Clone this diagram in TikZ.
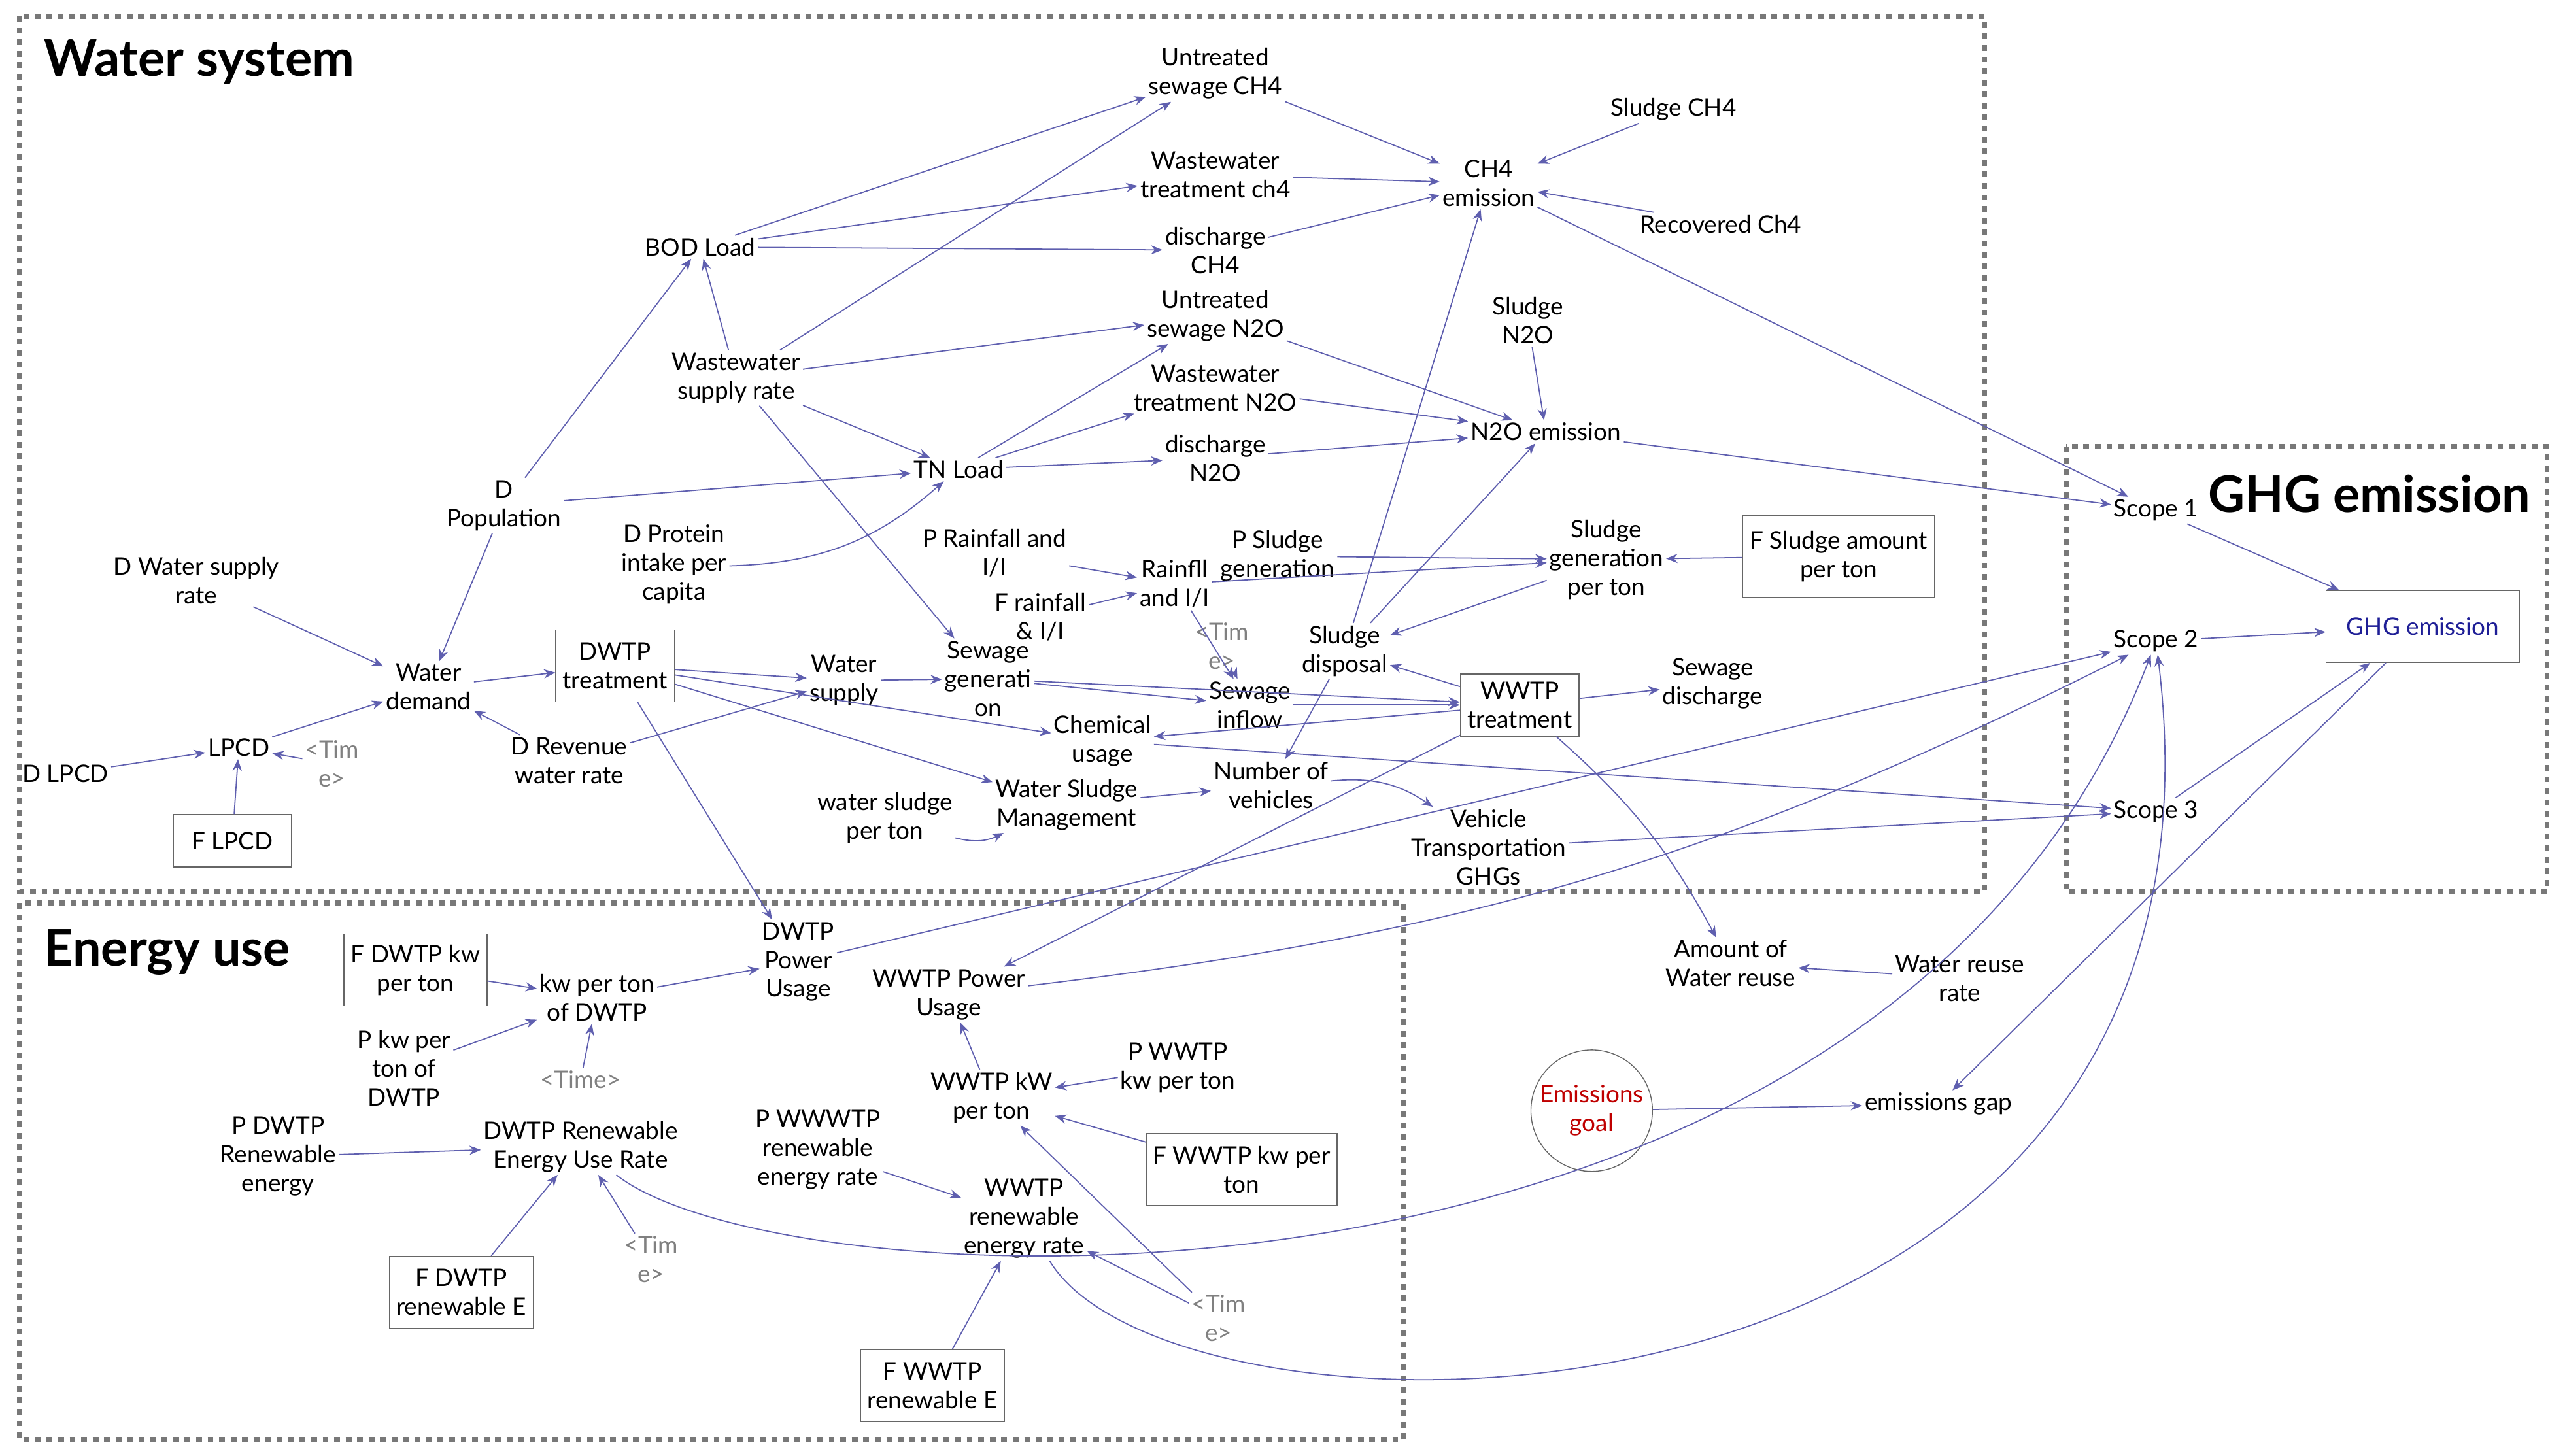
\documentclass[tikz,border=0pt]{standalone}
\usepackage{fontspec}
\setmainfont{Lato}
\usetikzlibrary{arrows.meta}
\definecolor{ln}{RGB}{95,95,175}
\definecolor{tip}{RGB}{30,30,150}
\definecolor{dotc}{RGB}{120,120,120}
\begin{document}
\begin{tikzpicture}[x=0.025cm,y=-0.025cm,
 v/.style={align=center,font=\fontsize{10.5}{12.5}\selectfont,inner sep=1pt},
 b/.style={v,draw=black!60,inner sep=3pt,minimum height=1.1cm},
 tm/.style={v,text=gray},
 ttl/.style={font=\fontsize{22}{24}\selectfont\bfseries,anchor=west},
 zone/.style={draw=dotc,dash pattern=on 2.5pt off 2.5pt,line width=2.2pt},
 a/.style={-{Stealth[length=5pt,width=4pt]},draw=ln,line width=0.5pt}]
\useasboundingbox (0,0) rectangle (1568,890);
\draw[zone] (12,10) rectangle (1213,545);
\draw[zone] (12,552) rectangle (858,880);
\draw[zone] (1263,273) rectangle (1557,545);
\node[ttl] (t1) at (22,38) {Water system};
\node[ttl] (t2) at (22,582) {Energy use};
\node[ttl] (t3) at (1345,302) {GHG emission};
% nodes
\node[v] (usch4) at (743,45) {Untreated\\sewage CH4};
\node[v] (wwtch4) at (743,107) {Wastewater\\treatment ch4};
\node[v] (dch4) at (743,153) {discharge\\CH4};
\node[v] (ch4) at (910,112) {CH4\\emission};
\node[v] (sludgech4) at (1023,67) {Sludge CH4};
\node[v] (recch4) at (1052,137) {Recovered Ch4};
\node[v] (bod) at (428,151) {BOD Load};
\node[v] (wsr) at (450,231) {Wastewater\\supply rate};
\node[v] (usn2o) at (743,193) {Untreated\\sewage N2O};
\node[v] (wtn2o) at (743,237) {Wastewater\\treatment N2O};
\node[v] (dn2o) at (743,280) {discharge\\N2O};
\node[v] (sn2o) at (934,196) {Sludge\\N2O};
\node[v] (n2o) at (945,264) {N2O emission};
\node[v] (tn) at (586,287) {TN Load};
\node[v] (dpop) at (308,309) {D\\Population};
\node[v] (dwsr) at (120,355) {D Water supply\\rate};
\node[v] (dprot) at (412,345) {D Protein\\intake per\\capita};
\node[v] (prain) at (608,338) {P Rainfall and\\I/I};
\node[v] (frain) at (636,377) {F rainfall\\\& I/I};
\node[v] (rain) at (718,357) {Rainfll\\and I/I};
\node[v] (psg) at (781,340) {P Sludge\\generation};
\node[v] (sgpt) at (982,342) {Sludge\\generation\\per ton};
\node[b,minimum height=1.25cm] (fsa) at (1124,340) {F Sludge amount\\per ton};
\node[tm] (time1) at (747,395) {<Tim\\e>};
\node[v] (sd) at (822,398) {Sludge\\disposal};
\node[v] (wd) at (262,420) {Water\\demand};
\node[b] (dwtp) at (376,407) {DWTP\\treatment};
\node[v] (ws) at (516,416) {Water\\supply};
\node[v] (sg) at (604,415) {Sewage\\generati\\on};
\node[v] (si) at (764,431) {Sewage\\inflow};
\node[b,minimum height=0.95cm] (wwtp) at (929,431) {WWTP\\treatment};
\node[v] (sdis) at (1047,418) {Sewage\\discharge};
\node[v] (lpcd) at (146,457) {LPCD};
\node[tm] (time2) at (203,467) {<Tim\\e>};
\node[v] (dlpcd) at (40,473) {D LPCD};
\node[v] (drev) at (348,465) {D Revenue\\water rate};
\node[v] (chem) at (674,453) {Chemical\\usage};
\node[v] (nv) at (777,480) {Number of\\vehicles};
\node[v] (wsm) at (652,492) {Water Sludge\\Management};
\node[v] (wspt) at (541,500) {water sludge\\per ton};
\node[v] (vt) at (910,518) {Vehicle\\Transportation\\GHGs};
\node[b,minimum height=0.8cm,minimum width=1.8cm] (flpcd) at (142,514) {F LPCD};
\node[v] (scope1) at (1318,312) {Scope 1};
\node[v] (scope2) at (1318,392) {Scope 2};
\node[v] (scope3) at (1318,496) {Scope 3};
\node[b,text=tip,minimum width=2.95cm] (ghg) at (1481,383) {GHG emission};
\node[b] (fdkw) at (254,593) {F DWTP kw\\per ton};
\node[v] (kwd) at (365,610) {kw per ton\\of DWTP};
\node[v] (dpu) at (488,588) {DWTP\\Power\\Usage};
\node[v] (wpu) at (580,608) {WWTP Power\\Usage};
\node[v] (awr) at (1058,589) {Amount of\\Water reuse};
\node[v] (wrr) at (1198,598) {Water reuse\\rate};
\node[v] (pkw) at (247,653) {P kw per\\ton of\\DWTP};
\node[tm] (time3) at (355,660) {<Time>};
\node[v] (pwkw) at (720,653) {P WWTP\\kw per ton};
\node[v] (wkw) at (606,671) {WWTP kW\\per ton};
\node[v,draw=black!60,circle,text=red!75!black,minimum size=1.75cm] (eg) at (973,679) {Emissions\\goal};
\node[v] (egap) at (1185,675) {emissions gap};
\node[v] (pdre) at (170,707) {P DWTP\\Renewable\\energy};
\node[v] (dre) at (355,701) {DWTP Renewable\\Energy Use Rate};
\node[v] (pwre) at (500,703) {P WWWTP\\renewable\\energy rate};
\node[b] (fwkw) at (759,715) {F WWTP kw per\\ton};
\node[v] (wre) at (626,745) {WWTP\\renewable\\energy rate};
\node[tm] (time4) at (398,770) {<Tim\\e>};
\node[b] (fdre) at (282,790) {F DWTP\\renewable E};
\node[tm] (time5) at (745,806) {<Tim\\e>};
\node[b] (fwre) at (570,847) {F WWTP\\renewable E};
% edges
\foreach \s/\t in {usch4/ch4,wwtch4/ch4,dch4/ch4,sludgech4/ch4,recch4/ch4,bod/usch4,bod/wwtch4,bod/dch4,
 wsr/usch4,wsr/bod,wsr/usn2o,wsr/tn,wsr/sg,tn/usn2o,tn/wtn2o,tn/dn2o,usn2o/n2o,wtn2o/n2o,dn2o/n2o,sn2o/n2o,
 dpop/bod,dpop/tn,dpop/wd,prain/rain,frain/rain,rain/si,time1/si,psg/sgpt,fsa/sgpt,rain/sgpt,sgpt/sd,
 sd/ch4,sd/n2o,wwtp/sd,sd/nv,dwsr/wd,lpcd/wd,drev/wd,dlpcd/lpcd,time2/lpcd,flpcd/lpcd,wd/dwtp,dwtp/ws,
 ws/sg,sg/si,si/wwtp,sg/wwtp,wwtp/sdis,dwtp/chem,dwtp/wsm,wwtp/chem,chem/scope3,wsm/nv,vt/scope3,drev/ws,
 dwtp/dpu,wwtp/wpu,wrr/awr,fdkw/kwd,pkw/kwd,time3/kwd,kwd/dpu,dpu/scope2,wkw/wpu,pwkw/wkw,fwkw/wkw,
 time5/wkw,time5/wre,pwre/wre,fwre/wre,pdre/dre,fdre/dre,time4/dre,ch4/scope1,n2o/scope1,scope1/ghg,
 scope2/ghg,scope3/ghg,ghg/egap,eg/egap}
 \draw[a] (\s) -- (\t);
\draw[a] (dprot) to[bend right=20] (tn);
\draw[a] (wspt) to[bend right=20] (wsm);
\draw[a] (nv) to[bend left=20] (vt);
\draw[a] (wwtp) to[bend left=10] (awr);
\draw[a] (wpu) to[bend right=10] (scope2);
\draw[a] (dre) .. controls (480,800) and (1150,830) .. (scope2);
\draw[a] (wre) .. controls (720,900) and (1380,900) .. (scope2);
\end{tikzpicture}
\end{document}
